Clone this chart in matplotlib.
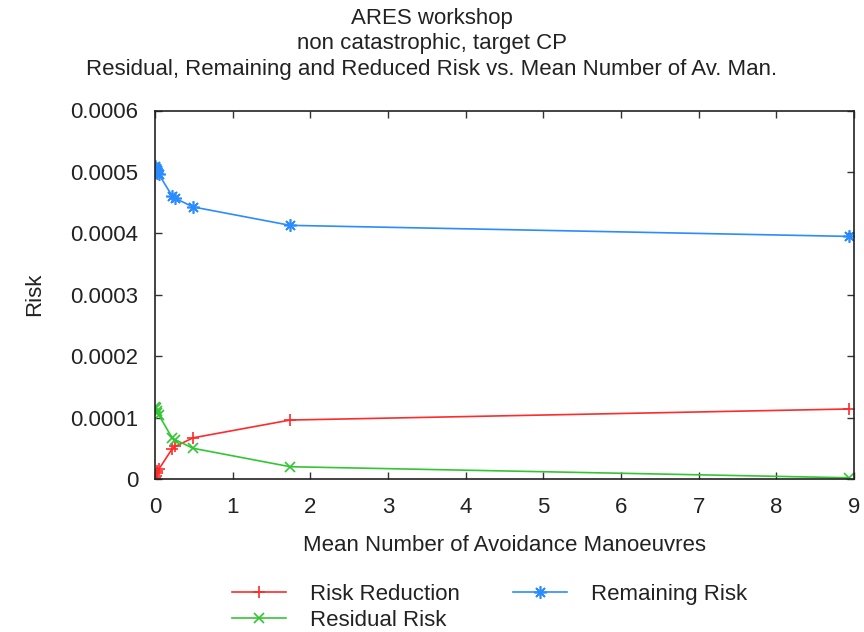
import matplotlib
matplotlib.use("Agg")
import matplotlib.pyplot as plt
from matplotlib.ticker import FixedLocator

plt.rcParams['font.family'] = ['Liberation Sans', 'DejaVu Sans']

# Data
mean_av_man = [0.005, 0.01, 0.02, 0.03, 0.05, 0.22, 0.26, 0.49, 1.74, 8.93]
risk_reduction = [0.000002, 0.000005, 0.000009, 0.000013, 0.000016,
                  0.000049, 0.000053, 0.000067, 0.000096, 0.000114]
residual_risk = [0.000118, 0.000115, 0.000111, 0.000108, 0.000104,
                 0.000067, 0.000064, 0.000050, 0.000020, 0.000002]
remaining_risk = [0.000510, 0.000507, 0.000503, 0.000499, 0.000496,
                  0.000461, 0.000457, 0.000443, 0.000413, 0.000395]

x_ticks = [0, 1, 2, 3, 4, 5, 6, 7, 8, 9]
y_ticks = [0, 0.0001, 0.0002, 0.0003, 0.0004, 0.0005, 0.0006]
y_tick_labels = ['0', '0.0001', '0.0002', '0.0003', '0.0004', '0.0005', '0.0006']

title = ("ARES workshop\nnon catastrophic, target CP\n"
         "Residual, Remaining and Reduced Risk vs. Mean Number of Av. Man.")

fig = plt.figure(figsize=(8.64, 6.32), dpi=100)
ax = fig.add_axes([155/864, 1-479/632, (854-155)/864, (479-110.5)/632])

fs = 16
txtc = '#222222'

red = '#ff2a2a'
green = '#33c633'
blue = '#2b8cff'

ax.plot(mean_av_man, risk_reduction, color=red, lw=1.2, marker='+',
        markersize=9, markeredgewidth=1.2, label='Risk Reduction')
ax.plot(mean_av_man, residual_risk, color=green, lw=1.2, marker='x',
        markersize=7, markeredgewidth=1.2, label='Residual Risk')
ax.plot(mean_av_man, remaining_risk, color=blue, lw=1.2, marker=(8, 2, 0),
        markersize=9, markeredgewidth=1.2, label='Remaining Risk')

ax.set_xlim(0, 9)
ax.set_ylim(0, 0.0006)
ax.xaxis.set_major_locator(FixedLocator(x_ticks))
ax.yaxis.set_major_locator(FixedLocator(y_ticks))
ax.set_yticklabels(y_tick_labels)
ax.tick_params(direction='in', length=5, width=1, top=True, right=True,
               labelsize=fs, labelcolor=txtc, color='#333333')
ax.tick_params(axis='x', pad=13)
ax.tick_params(axis='y', pad=12)
for s in ax.spines.values():
    s.set_linewidth(1.2)
    s.set_color('#222222')

ax.set_xlabel('Mean Number of Avoidance Manoeuvres', fontsize=fs, color=txtc, labelpad=12)
ax.set_ylabel('Risk', fontsize=fs, color=txtc, labelpad=18)
fig.text(0.5, 1-8/632, title, ha='center', va='top', fontsize=fs, color=txtc,
         linespacing=1.28)

fig.legend(loc='center', bbox_to_anchor=(0.567, 0.039), ncol=2, frameon=False,
           fontsize=fs, handlelength=2.4, handletextpad=1.1, columnspacing=2.4,
           labelspacing=0.2, labelcolor=txtc, borderpad=0.2)

fig.savefig('out.png', dpi=100)
